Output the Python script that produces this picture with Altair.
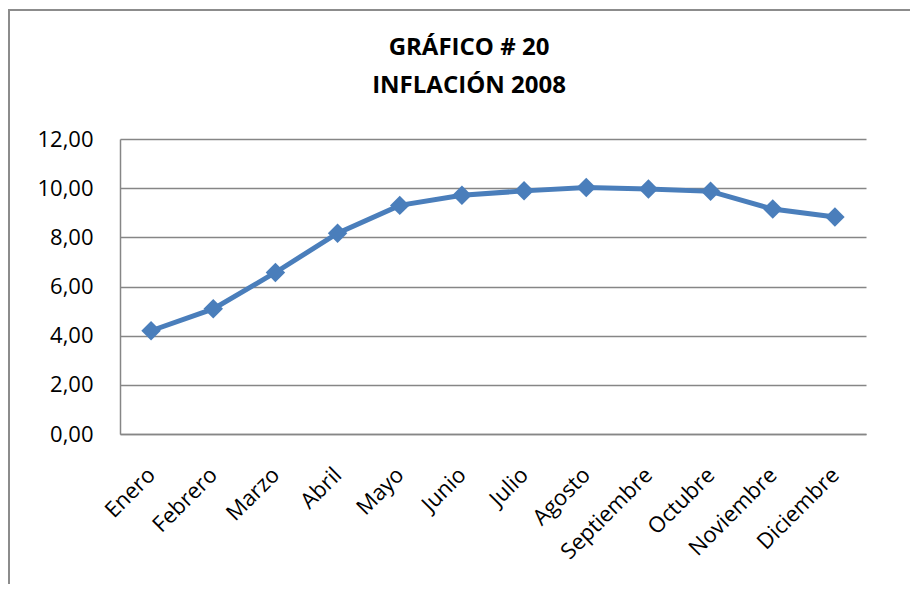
import altair as alt
import pandas as pd

meses = ["Enero", "Febrero", "Marzo", "Abril", "Mayo", "Junio", "Julio",
         "Agosto", "Septiembre", "Octubre", "Noviembre", "Diciembre"]
inflacion = [4.20, 5.09, 6.57, 8.17, 9.30, 9.71, 9.89, 10.03, 9.97, 9.87, 9.15, 8.83]
titulo = ["GRÁFICO # 20", "INFLACIÓN 2008"]

df = pd.DataFrame({"mes": meses, "inflacion": inflacion})

BLUE = "#4A7EBB"
GRID = "#868686"
FONT = "Open Sans"

x_enc = alt.X("mes:N", sort=meses, scale=alt.Scale(type="point", padding=0.5),
              axis=alt.Axis(title=None, labelAngle=315, labelAlign="right",
                            labelBaseline="middle", labelPadding=37,
                            labelFontSize=22, labelFont=FONT, labelColor="#000000",
                            ticks=False, domainColor=GRID, domainWidth=1.5,
                            grid=False))
y_enc = alt.Y("inflacion:Q", scale=alt.Scale(domain=[0, 12], nice=False),
              axis=alt.Axis(title=None, values=[0, 2, 4, 6, 8, 10, 12],
                            labelExpr="replace(format(datum.value, '.2f'), '.', ',')",
                            labelFontSize=22, labelFont=FONT, labelColor="#000000",
                            labelPadding=27, ticks=False, domainColor=GRID,
                            domainWidth=1.5, gridColor=GRID, gridWidth=1.3))

frame = alt.Chart(df).mark_rect(fill=None, stroke="#8C8C8C", strokeWidth=1.5).encode(
    x=alt.value(-111), x2=alt.value(900), y=alt.value(-129), y2=alt.value(600)
)

t1 = alt.Chart(pd.DataFrame({"t": [titulo[0]]})).mark_text(
    font=FONT, fontSize=24, fontWeight="bold", color="#000000",
    align="center", baseline="middle").encode(
    text="t:N", x=alt.value(349), y=alt.value(-91))
t2 = alt.Chart(pd.DataFrame({"t": [titulo[1]]})).mark_text(
    font=FONT, fontSize=24, fontWeight="bold", color="#000000",
    align="center", baseline="middle").encode(
    text="t:N", x=alt.value(349), y=alt.value(-53))

line = alt.Chart(df).mark_line(color=BLUE, strokeWidth=5).encode(x=x_enc, y=y_enc)
points = alt.Chart(df).mark_point(shape="diamond", filled=True, color=BLUE,
                                  size=380, opacity=1).encode(x=x_enc, y=y_enc)

chart = alt.layer(frame, t1, t2, line, points).properties(
    width=746, height=295,
    autosize=alt.AutoSizeParams(type="none"),
    padding={"left": 112, "top": 131, "right": 44, "bottom": 150},
).configure_view(stroke=None)

chart.save("out.html", embed_options={"renderer": "svg", "actions": False})
